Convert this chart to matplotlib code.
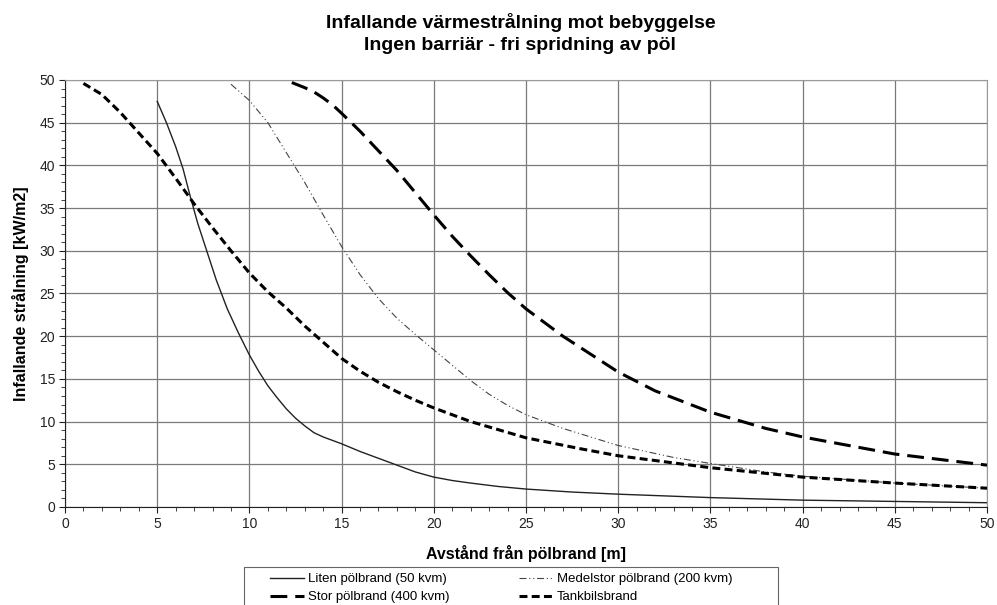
import numpy as np
import matplotlib
matplotlib.use("Agg")
import matplotlib.pyplot as plt
from matplotlib.ticker import MultipleLocator
from matplotlib.patches import Rectangle

plt.rcParams['font.family'] = ['Liberation Sans', 'DejaVu Sans']

liten_x = [5, 5.5, 6, 6.4, 6.8, 7.2, 7.7, 8.2, 8.8, 9.4, 10, 10.5, 11, 11.5, 12, 12.5, 13, 13.5, 14, 15, 16, 17, 18, 19, 20, 21, 22, 23.5, 25, 27.5, 30, 35, 40, 45, 50]
liten_y = [47.5, 45, 42.2, 39.6, 36.3, 33.2, 29.9, 26.6, 23.2, 20.4, 17.8, 15.9, 14.2, 12.8, 11.5, 10.4, 9.5, 8.7, 8.2, 7.4, 6.5, 5.7, 4.9, 4.1, 3.5, 3.1, 2.8, 2.4, 2.1, 1.75, 1.5, 1.1, 0.8, 0.65, 0.5]

medel_x = [9, 10, 11, 12, 13, 14, 15, 16, 17, 18, 19, 20, 21, 22, 23, 24, 25, 27, 30, 33, 35, 38, 40, 45, 50]
medel_y = [49.5, 47.6, 45, 41.5, 38, 34.2, 30.5, 27.2, 24.4, 22.1, 20.2, 18.4, 16.6, 14.8, 13.2, 11.9, 10.8, 9.2, 7.2, 5.8, 5.1, 4.1, 3.6, 2.8, 2.2]

stor_x = [12.3, 13, 13.5, 14, 14.5, 15, 16, 17, 18, 19, 20, 21, 22, 23, 24, 25, 27, 30, 32, 35, 38, 40, 45, 50]
stor_y = [49.7, 49.1, 48.6, 47.9, 47.1, 46.1, 44, 41.7, 39.4, 36.8, 34.2, 31.7, 29.4, 27.2, 25.1, 23.2, 20, 15.8, 13.6, 11.1, 9.2, 8.2, 6.2, 4.9]

tank_x = [1, 2, 3, 4, 5, 6, 7, 8, 9, 10, 11, 12, 13, 14, 15, 16, 17, 18, 19, 20, 22, 25, 28, 30, 35, 40, 45, 50]
tank_y = [49.6, 48.3, 46.2, 43.8, 41.4, 38.5, 35.5, 32.7, 30, 27.4, 25.2, 23.3, 21.2, 19.3, 17.4, 15.9, 14.6, 13.5, 12.5, 11.6, 10, 8.1, 6.8, 6.0, 4.6, 3.5, 2.8, 2.2]

labels = ["Liten pölbrand (50 kvm)", "Medelstor pölbrand (200 kvm)",
          "Stor pölbrand (400 kvm)", "Tankbilsbrand"]

fig = plt.figure(figsize=(9.97, 6.05), dpi=100)
ax = fig.add_axes([0.0652, 0.162, 0.9248, 0.7058])

l1, = ax.plot(liten_x, liten_y, color='#222222', lw=1.0, label=labels[0])
l2, = ax.plot(medel_x, medel_y, color='#444444', lw=0.8, label=labels[1])
l2.set_dashes([6.3, 2.5, 1, 2.5, 1, 2.5])
l3, = ax.plot(stor_x, stor_y, color='black', lw=2.2, label=labels[2])
l3.set_dashes([5.5, 2.6])
l4, = ax.plot(tank_x, tank_y, color='black', lw=2.2, label=labels[3])
l4.set_dashes([2.6, 1.4])

ax.set_xlim(0, 50)
ax.set_ylim(0, 50)
ax.xaxis.set_major_locator(MultipleLocator(5))
ax.yaxis.set_major_locator(MultipleLocator(5))
ax.xaxis.set_minor_locator(MultipleLocator(1))
ax.yaxis.set_minor_locator(MultipleLocator(1))
ax.grid(True, which='major', color='#7a7a7a', lw=0.9)
ax.set_axisbelow(True)
ax.tick_params(which='major', direction='out', length=4, width=0.8, pad=3, labelsize=10, colors='#222222')
ax.tick_params(which='minor', direction='out', length=3, width=0.6, colors='#222222')
for s in ['top', 'right']:
    ax.spines[s].set_color('#9a9a9a')
for s in ['left', 'bottom']:
    ax.spines[s].set_color('#222222')

ax.set_xlabel("Avstånd från pölbrand [m]", fontsize=11.5, fontweight='bold', labelpad=10)
ax.set_ylabel("Infallande strålning [kW/m2]", fontsize=11.5, fontweight='bold', labelpad=8)

fig.text(0.522, 0.963, "Infallande värmestrålning mot bebyggelse", ha='center', va='center',
         fontsize=14, fontweight='bold')
fig.text(0.522, 0.925, "Ingen barriär - fri spridning av pöl", ha='center', va='center',
         fontsize=14, fontweight='bold')

# ram runt legenden (nedre kanten hamnar utanför bilden)
fig.patches.append(Rectangle((244 / 997, -0.02), 534 / 997, 0.02 + 38 / 605,
                             transform=fig.transFigure, fill=False,
                             edgecolor='#666666', lw=0.8))

leg = fig.legend([l1, l3, l2, l4], [labels[0], labels[2], labels[1], labels[3]],
                 loc='upper left', bbox_to_anchor=(270 / 997, 1 - 573 / 605),
                 ncol=2, fontsize=9.5, frameon=False,
                 handlelength=2.6, handletextpad=0.25, labelspacing=0.45,
                 columnspacing=5.3, borderaxespad=0, borderpad=0)

fig.savefig("out.png", dpi=100)
